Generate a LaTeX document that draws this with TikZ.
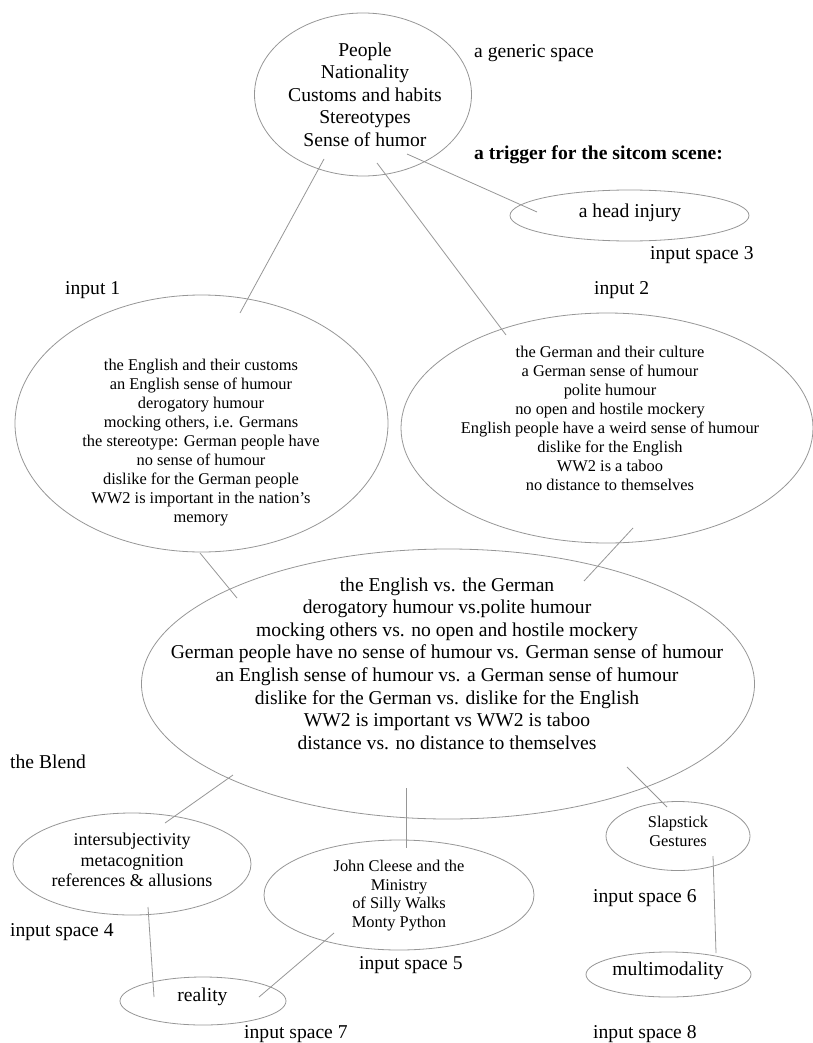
\documentclass[tikz,border=0pt]{standalone}
\usepackage{fontspec}
\setmainfont{Liberation Serif}
\usetikzlibrary{shapes.geometric}
\definecolor{edgegray}{RGB}{150,150,150}
\tikzset{
  space/.style={draw=edgegray, line width=0.8pt, ellipse, inner sep=0pt},
  link/.style={draw=edgegray, line width=0.8pt},
  txt/.style={align=center, inner sep=0pt, text=black},
  bigtxt/.style={txt, font=\fontsize{19.6}{22.6}\selectfont},
  smalltxt/.style={txt, font=\fontsize{16.4}{18.9}\selectfont},
  lbl/.style={anchor=west, inner sep=0pt, font=\fontsize{19.6}{22.6}\selectfont},
}
\begin{document}
\begin{tikzpicture}[x=1pt,y=-1pt]
\useasboundingbox (0,0) rectangle (812,1043);
% ellipses
\node[space, minimum width=217pt, minimum height=163pt] (gen) at (363,94.5) {};
\node[space, minimum width=239pt, minimum height=51pt] (head) at (629.5,215.5) {};
\node[space, minimum width=373pt, minimum height=257pt] (in1) at (201.5,423.5) {};
\node[space, minimum width=412pt, minimum height=230pt] (in2) at (607,428) {};
\node[space, minimum width=613pt, minimum height=270pt] (blend) at (448,684) {};
\node[space, minimum width=238pt, minimum height=102pt] (in4) at (132,864) {};
\node[space, minimum width=270pt, minimum height=110pt] (in5) at (399,895) {};
\node[space, minimum width=144pt, minimum height=69pt] (in6) at (678,836) {};
\node[space, minimum width=165pt, minimum height=45pt] (in8) at (668.5,974.5) {};
\node[space, minimum width=166pt, minimum height=48pt] (in7) at (203,1001) {};
% texts
\node[bigtxt] (gent) at (365,94.5) {People\\Nationality\\Customs and habits\\Stereotypes\\Sense of humor};
\node[bigtxt] (headt) at (630,213) {a head injury};
\node[smalltxt] (in1t) at (201,442.5) {the English and their customs\\an English sense of humour\\derogatory humour\\mocking others, i.e. Germans\\the stereotype: German people have\\no sense of humour\\dislike for the German people\\WW2 is important in the nation's\\memory};
\node[smalltxt] (in2t) at (610,418.5) {the German and their culture\\a German sense of humour\\polite humour\\no open and hostile mockery\\English people have a weird sense of humour\\dislike for the English\\WW2 is a taboo\\no distance to themselves};
\node[bigtxt] (blendt) at (447,663.5) {the English vs. the German\\derogatory humour vs.polite humour\\mocking others vs. no open and hostile mockery\\German people have no sense of humour vs. German sense of humour\\an English sense of humour vs. a German sense of humour\\dislike for the German vs. dislike for the English\\WW2 is important vs WW2 is taboo\\distance vs. no distance to themselves};
\node[txt, font=\fontsize{18}{20.6}\selectfont] (in4t) at (132,860) {intersubjectivity\\metacognition\\references \& allusions};
\node[smalltxt, font=\fontsize{16.4}{18.7}\selectfont] (in5t) at (399,895.5) {John Cleese and the\\Ministry\\of Silly Walks\\Monty Python};
\node[smalltxt] (in6t) at (678,831.5) {Slapstick\\Gestures};
\node[bigtxt] (in8t) at (668,970.5) {multimodality};
\node[bigtxt] (in7t) at (202.5,997) {reality};
% labels
\node[lbl] (l0) at (474,53) {a generic space};
\node[lbl, font=\bfseries\fontsize{19.6}{22.6}\selectfont] (l1) at (474,155) {a trigger for the sitcom scene:};
\node[lbl] (l2) at (650,255) {input space 3};
\node[lbl] (l3) at (65,290) {input 1};
\node[lbl] (l4) at (594,290) {input 2};
\node[lbl] (l5) at (10,762) {the Blend};
\node[lbl] (l6) at (10,932) {input space 4};
\node[lbl] (l7) at (359,965) {input space 5};
\node[lbl] (l8) at (593,898) {input space 6};
\node[lbl] (l9) at (244,1034) {input space 7};
\node[lbl] (l10) at (593,1034) {input space 8};
% connector ends
\coordinate (g1) at (324,159);
\coordinate (a1) at (240,313);
\coordinate (g2) at (377,163);
\coordinate (a2) at (506,335);
\coordinate (g3) at (407,154);
\coordinate (a3) at (537,212);
\coordinate (b1) at (200,553);
\coordinate (c1) at (237,598);
\coordinate (b2) at (633,528);
\coordinate (c2) at (584,581);
\coordinate (c4) at (233,775);
\coordinate (d4) at (165,823);
\coordinate (c5) at (406,788);
\coordinate (d5) at (406,848);
\coordinate (c6) at (627,767);
\coordinate (d6) at (667,807);
\coordinate (e4) at (148,907);
\coordinate (f4) at (154,997);
\coordinate (e5) at (334,933);
\coordinate (f5) at (259,997);
\coordinate (e6) at (713,856);
\coordinate (f6) at (716,953);
% connectors
\draw[link] (g1) -- (a1);
\draw[link] (g2) -- (a2);
\draw[link] (g3) -- (a3);
\draw[link] (b1) -- (c1);
\draw[link] (b2) -- (c2);
\draw[link] (c4) -- (d4);
\draw[link] (c5) -- (d5);
\draw[link] (c6) -- (d6);
\draw[link] (e4) -- (f4);
\draw[link] (e5) -- (f5);
\draw[link] (e6) -- (f6);
\end{tikzpicture}
\end{document}
